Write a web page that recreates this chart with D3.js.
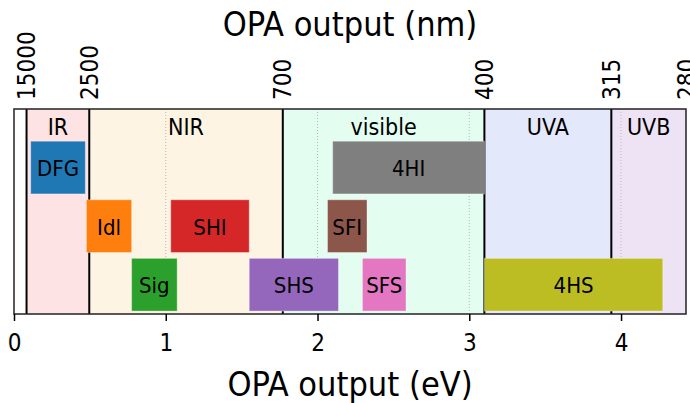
<!DOCTYPE html>
<html>
<head>
<meta charset="utf-8">
<script src="https://cdnjs.cloudflare.com/ajax/libs/d3/7.9.0/d3.min.js"></script>
<style>
 body, html { margin: 0; padding: 0; background: #fff; overflow: hidden; }
 svg text { font-family: "DejaVu Sans Condensed", "DejaVu Sans", sans-serif; fill: #000; }
</style>
</head>
<body>
<svg id="chart" width="690" height="403"></svg>
<script>
// spectral regions, boundaries in nm
const regionNames = ["IR", "NIR", "visible", "UVA", "UVB"];
const regionFrom = [15000, 2500, 700, 400, 315];
const regionTo = [2500, 700, 400, 315, 280];
const regionColors = ["#fde3e3", "#fdf4e3", "#e3fdf0", "#e3e8fb", "#ede3f5"];

// OPA output stages, ranges in eV, row 3 = top
const stageNames = ["DFG", "Idl", "Sig", "SHI", "SHS", "SFI", "SFS", "4HI", "4HS"];
const stageRows = [3, 2, 1, 2, 1, 2, 1, 3, 1];
const stageFrom = [0.11, 0.477, 0.775, 1.033, 1.55, 2.066, 2.296, 2.10, 3.10];
const stageTo = [0.47, 0.775, 1.075, 1.55, 2.138, 2.326, 2.583, 3.10, 4.275];
const stageColors = ["#1f77b4", "#ff7f0e", "#2ca02c", "#d62728", "#9467bd", "#8c564b", "#e377c2", "#7f7f7f", "#bcbd22"];

const evTicks = [0, 1, 2, 3, 4];
const nmTicks = [15000, 2500, 700, 400, 315, 280];

const hc = 1239.84;
const toEv = nm => hc / nm;

const margin = {top: 109, right: 4, bottom: 89, left: 14};
const width = 690, height = 403;

const svg = d3.select("#chart");

const x = d3.scaleLinear()
 .domain([0, toEv(280)])
 .range([margin.left, width - margin.right]);

const y = d3.scaleLinear()
 .domain([0.5, 4.0])
 .range([height - margin.bottom, margin.top]);

const plot = svg.append("g");

// region backgrounds
plot.selectAll("rect.region")
 .data(regionNames)
 .enter().append("rect")
 .attr("class", "region")
 .attr("x", (d, i) => x(toEv(regionFrom[i])))
 .attr("width", (d, i) => x(toEv(regionTo[i])) - x(toEv(regionFrom[i])))
 .attr("y", y(4.0))
 .attr("height", y(0.5) - y(4.0))
 .attr("fill", (d, i) => regionColors[i]);

// dotted grid on eV ticks
plot.selectAll("line.grid")
 .data(evTicks.filter(d => d > 0))
 .enter().append("line")
 .attr("class", "grid")
 .attr("x1", d => x(d)).attr("x2", d => x(d))
 .attr("y1", y(4.0)).attr("y2", y(0.5))
 .attr("stroke", "#b8b8b8")
 .attr("stroke-width", 1)
 .attr("stroke-dasharray", "1,2");

// region boundaries
plot.selectAll("line.bound")
 .data(regionFrom)
 .enter().append("line")
 .attr("class", "bound")
 .attr("x1", d => x(toEv(d))).attr("x2", d => x(toEv(d)))
 .attr("y1", y(4.0)).attr("y2", y(0.5))
 .attr("stroke", "#000")
 .attr("stroke-width", 2);

// region labels
plot.selectAll("text.region")
 .data(regionNames)
 .enter().append("text")
 .attr("class", "region")
 .attr("x", (d, i) => (x(toEv(regionFrom[i])) + x(toEv(regionTo[i]))) / 2)
 .attr("y", y(3.7))
 .attr("text-anchor", "middle")
 .attr("dominant-baseline", "central")
 .style("font-size", "23px")
 .text(d => d);

// stage bars
const barH = 0.9;
const bars = plot.selectAll("g.stage")
 .data(stageNames)
 .enter().append("g")
 .attr("class", "stage");

bars.append("rect")
 .attr("x", (d, i) => x(stageFrom[i]))
 .attr("width", (d, i) => x(stageTo[i]) - x(stageFrom[i]))
 .attr("y", (d, i) => y(stageRows[i] + barH / 2))
 .attr("height", y(0) - y(barH))
 .attr("fill", (d, i) => stageColors[i])
 .attr("stroke", "rgba(255,255,255,0.35)")
 .attr("stroke-width", 1);

bars.append("text")
 .attr("x", (d, i) => (x(stageFrom[i]) + x(stageTo[i])) / 2)
 .attr("y", (d, i) => y(stageRows[i]) + 1)
 .attr("text-anchor", "middle")
 .attr("dominant-baseline", "central")
 .style("font-size", "22px")
 .text(d => d);

// frame
plot.append("rect")
 .attr("x", x(0)).attr("y", y(4.0))
 .attr("width", x.range()[1] - x(0))
 .attr("height", y(0.5) - y(4.0))
 .attr("fill", "none")
 .attr("stroke", "#222")
 .attr("stroke-width", 1.5);

// bottom axis (eV)
const bottomAxis = svg.append("g")
 .attr("transform", `translate(0,${y(0.5)})`)
 .call(d3.axisBottom(x).tickValues(evTicks).tickFormat(d3.format("d")).tickSize(7).tickPadding(13));
bottomAxis.select(".domain").remove();
bottomAxis.selectAll("line").attr("stroke", "#000").attr("stroke-width", 1.5);
bottomAxis.selectAll("text").style("font-size", "24px").attr("font-family", null);

// top axis (nm)
const xNm = d3.scaleLinear()
 .domain(x.domain())
 .range(x.range());
const topAxis = svg.append("g")
 .attr("transform", `translate(0,${y(4.0)})`)
 .call(d3.axisTop(xNm).tickValues(nmTicks.map(toEv)).tickFormat((d, i) => nmTicks[i]).tickSize(0));
topAxis.select(".domain").remove();
topAxis.selectAll("text")
 .attr("font-family", null)
 .style("font-size", "24px")
 .attr("text-anchor", "start")
 .attr("dominant-baseline", "central")
 .attr("x", 0)
 .attr("y", 0)
 .attr("transform", "translate(0,-9) rotate(-90)");

// axis titles
svg.append("text")
 .attr("x", (x.range()[0] + x.range()[1]) / 2)
 .attr("y", 36)
 .attr("text-anchor", "middle")
 .style("font-size", "34px")
 .text("OPA output (nm)");

svg.append("text")
 .attr("x", (x.range()[0] + x.range()[1]) / 2)
 .attr("y", 396)
 .attr("text-anchor", "middle")
 .style("font-size", "34px")
 .text("OPA output (eV)");
</script>
</body>
</html>
